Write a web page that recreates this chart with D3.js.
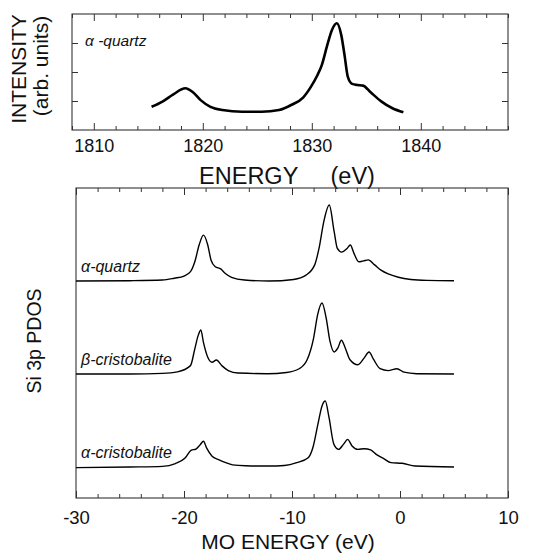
<!DOCTYPE html>
<html>
<head>
<meta charset="utf-8">
<script src="https://cdn.jsdelivr.net/npm/d3@7"></script>
<style>
  html, body { margin: 0; padding: 0; background: #fff; }
  svg { display: block; }
  text { font-family: "Liberation Sans", Arial, Helvetica, sans-serif; fill: #111; }
</style>
</head>
<body>
<svg id="chart" width="546" height="553"></svg>
<script>
// ---------- DATA ----------
// Top panel: alpha-quartz Si K-edge spectrum (arb. units)
const topEnergy = [1815.3, 1816.3, 1817.3, 1818.4, 1819.1, 1819.8, 1820.7, 1821.8, 1823.6, 1825.4, 1827.0, 1828.15, 1829.2, 1829.9, 1830.5, 1830.9, 1831.4, 1831.85, 1832.3, 1832.7, 1833.0, 1833.3, 1833.7, 1834.2, 1834.7, 1835.4, 1836.4, 1837.4, 1838.4];
const topIntensity = [0.80, 0.98, 1.23, 1.44, 1.30, 1.03, 0.80, 0.69, 0.63, 0.63, 0.69, 0.87, 1.12, 1.48, 1.88, 2.22, 2.90, 3.45, 3.68, 3.28, 2.59, 1.84, 1.59, 1.55, 1.53, 1.30, 0.98, 0.75, 0.61];
const topXTicksMajor = [1810, 1820, 1830, 1840];
const topYTicks = [1, 2, 3];

// Bottom panel: Si 3p PDOS vs MO energy
const seriesNames = ["α-quartz", "β-cristobalite", "α-cristobalite"];
const seriesOffsets = [7, 4, 1];

const quartzE = [-30, -25, -22, -20.9, -20, -19.4, -19.0, -18.6, -18.2, -17.8, -17.5, -17.1, -16.6, -16.2, -15.6, -14.4, -12.1, -9.85, -8.7, -7.9, -7.5, -7.06, -6.55, -6.1, -5.8, -5.4, -4.9, -4.6, -4.26, -3.82, -3.38, -2.94, -2.35, -1.76, -1.03, -0.15, 1.0, 2.5, 5.0];
const quartzPDOS = [0, 0.01, 0.03, 0.09, 0.16, 0.30, 0.62, 1.16, 1.48, 1.16, 0.68, 0.46, 0.39, 0.25, 0.12, 0.03, 0.0, 0.05, 0.19, 0.52, 1.05, 1.91, 2.45, 1.6, 1.05, 0.93, 1.05, 1.16, 0.89, 0.62, 0.65, 0.68, 0.52, 0.35, 0.22, 0.12, 0.05, 0.02, 0.01];

const betaCristE = [-30, -25, -22, -20.6, -19.4, -19.0, -18.7, -18.44, -18.2, -17.8, -17.4, -17.0, -16.5, -15.9, -15.0, -12.3, -10.5, -9.34, -8.6, -8.0, -7.63, -7.22, -6.84, -6.48, -6.1, -5.75, -5.43, -5.07, -4.63, -3.9, -3.31, -2.87, -2.43, -1.84, -1.1, -0.28, 0.37, 1.54, 5.0];
const betaCristPDOS = [0, 0, 0.02, 0.07, 0.27, 0.81, 1.23, 1.42, 1.02, 0.54, 0.38, 0.45, 0.27, 0.11, 0.03, 0.01, 0.05, 0.17, 0.46, 1.16, 1.91, 2.29, 1.81, 1.05, 0.71, 0.84, 1.09, 0.84, 0.46, 0.30, 0.52, 0.71, 0.46, 0.17, 0.11, 0.17, 0.06, 0.01, 0];

const alphaCristE = [-30, -25, -22, -20.8, -19.9, -19.35, -18.9, -18.5, -18.2, -17.9, -17.4, -16.8, -16.2, -15.5, -14.3, -12.2, -10.7, -9.56, -8.5, -8.07, -7.6, -7.22, -6.92, -6.57, -6.12, -5.68, -5.24, -4.85, -4.44, -3.9, -3.31, -2.72, -2.13, -1.54, -0.83, 0.2, 1.4, 5.0];
const alphaCristPDOS = [-0.02, 0, 0.02, 0.11, 0.29, 0.54, 0.58, 0.72, 0.83, 0.61, 0.35, 0.24, 0.15, 0.07, 0.04, 0.03, 0.05, 0.14, 0.30, 0.62, 1.38, 1.97, 2.13, 1.59, 0.73, 0.57, 0.73, 0.89, 0.68, 0.57, 0.59, 0.55, 0.39, 0.28, 0.14, 0.12, 0.03, 0];

const bottomXTicksMajor = [-30, -20, -10, 0, 10];

// ---------- DRAW ----------
const svg = d3.select("#chart");

function styleAxis(fontSize) {
  return function (g) {
    g.select(".domain").remove();
    g.selectAll(".tick line").attr("stroke", "#333").attr("stroke-width", 1);
    g.selectAll("text").attr("font-size", fontSize).attr("fill", "#111")
      .attr("font-family", '"Liberation Sans", Arial, sans-serif');
  };
}

// ===== Top panel =====
const topBox = { left: 72, right: 508, top: 14, bottom: 130 };
const xTop = d3.scaleLinear().domain([1808, 1848]).range([topBox.left, topBox.right]);
const yTop = d3.scaleLinear().domain([0, 4]).range([topBox.bottom, topBox.top]);
const topMinor = d3.range(1808, 1848.1, 2).filter(v => v % 10 !== 0);

const gTop = svg.append("g");
gTop.append("g").attr("transform", `translate(0,${topBox.bottom})`)
  .call(d3.axisBottom(xTop).tickValues(topXTicksMajor).tickSize(-7).tickPadding(9).tickFormat(d3.format("d")))
  .call(styleAxis(18));
gTop.append("g").attr("transform", `translate(0,${topBox.bottom})`)
  .call(d3.axisBottom(xTop).tickValues(topMinor).tickSize(-4).tickFormat(""))
  .call(styleAxis(18));
gTop.append("g").attr("transform", `translate(0,${topBox.top})`)
  .call(d3.axisTop(xTop).tickValues(topXTicksMajor).tickSize(-7).tickFormat(""))
  .call(styleAxis(18));
gTop.append("g").attr("transform", `translate(0,${topBox.top})`)
  .call(d3.axisTop(xTop).tickValues(topMinor).tickSize(-4).tickFormat(""))
  .call(styleAxis(18));
gTop.append("g").attr("transform", `translate(${topBox.left},0)`)
  .call(d3.axisLeft(yTop).tickValues(topYTicks).tickSize(-6).tickFormat(""))
  .call(styleAxis(18));
gTop.append("g").attr("transform", `translate(${topBox.right},0)`)
  .call(d3.axisRight(yTop).tickValues(topYTicks).tickSize(-6).tickFormat(""))
  .call(styleAxis(18));

gTop.append("rect")
  .attr("x", topBox.left).attr("y", topBox.top)
  .attr("width", topBox.right - topBox.left).attr("height", topBox.bottom - topBox.top)
  .attr("fill", "none").attr("stroke", "#333").attr("stroke-width", 1.1);

const topData = topEnergy.map((e, i) => [e, topIntensity[i]]);
gTop.append("path").datum(topData)
  .attr("fill", "none").attr("stroke", "#000").attr("stroke-width", 2.6)
  .attr("stroke-linejoin", "round")
  .attr("d", d3.line().x(d => xTop(d[0])).y(d => yTop(d[1])).curve(d3.curveMonotoneX));

gTop.append("text").attr("x", 85).attr("y", 46)
  .attr("font-size", 15.5).attr("font-style", "italic").text("α -quartz");

gTop.append("text").attr("x", 287).attr("y", 184).attr("text-anchor", "middle")
  .attr("font-size", 23.5).style("white-space", "pre").text("ENERGY     (eV)");

gTop.append("text").attr("transform", "translate(26,69) rotate(-90)")
  .attr("text-anchor", "middle").attr("font-size", 21).text("INTENSITY");
gTop.append("text").attr("transform", "translate(48,66) rotate(-90)")
  .attr("text-anchor", "middle").attr("font-size", 21).text("(arb. units)");

// ===== Bottom panel =====
const botBox = { left: 76, right: 508, top: 188, bottom: 498 };
const xBot = d3.scaleLinear().domain([-30, 10]).range([botBox.left, botBox.right]);
const yBot = d3.scaleLinear().domain([0, 10]).range([botBox.bottom, botBox.top]);
const botMinor = d3.range(-30, 10.1, 2).filter(v => v % 10 !== 0);

const gBot = svg.append("g");
gBot.append("g").attr("transform", `translate(0,${botBox.bottom})`)
  .call(d3.axisBottom(xBot).tickValues(bottomXTicksMajor).tickSize(-7).tickPadding(13).tickFormat(d => String(d)))
  .call(styleAxis(18.5));
gBot.append("g").attr("transform", `translate(0,${botBox.bottom})`)
  .call(d3.axisBottom(xBot).tickValues(botMinor).tickSize(-4).tickFormat(""))
  .call(styleAxis(18.5));
gBot.append("g").attr("transform", `translate(0,${botBox.top})`)
  .call(d3.axisTop(xBot).tickValues(bottomXTicksMajor).tickSize(-7).tickFormat(""))
  .call(styleAxis(18.5));
gBot.append("g").attr("transform", `translate(0,${botBox.top})`)
  .call(d3.axisTop(xBot).tickValues(botMinor).tickSize(-4).tickFormat(""))
  .call(styleAxis(18.5));

gBot.append("rect")
  .attr("x", botBox.left).attr("y", botBox.top)
  .attr("width", botBox.right - botBox.left).attr("height", botBox.bottom - botBox.top)
  .attr("fill", "none").attr("stroke", "#333").attr("stroke-width", 1.1);

const allSeries = [
  quartzE.map((e, i) => [e, quartzPDOS[i]]),
  betaCristE.map((e, i) => [e, betaCristPDOS[i]]),
  alphaCristE.map((e, i) => [e, alphaCristPDOS[i]])
];

allSeries.forEach((s, k) => {
  const off = seriesOffsets[k];
  gBot.append("path").datum(s)
    .attr("fill", "none").attr("stroke", "#000").attr("stroke-width", 1.4)
    .attr("stroke-linejoin", "round")
    .attr("d", d3.line().x(d => xBot(d[0])).y(d => yBot(d[1] + off)).curve(d3.curveMonotoneX));
  gBot.append("text").attr("x", 81).attr("y", yBot(off) - 9)
    .attr("font-size", 16).attr("font-style", "italic").text(seriesNames[k]);
});

gBot.append("text").attr("x", 288).attr("y", 548.5).attr("text-anchor", "middle")
  .attr("font-size", 21).text("MO ENERGY (eV)");
gBot.append("text").attr("transform", "translate(41,341) rotate(-90)")
  .attr("text-anchor", "middle").attr("font-size", 19.5).text("Si 3p PDOS");
</script>
</body>
</html>
